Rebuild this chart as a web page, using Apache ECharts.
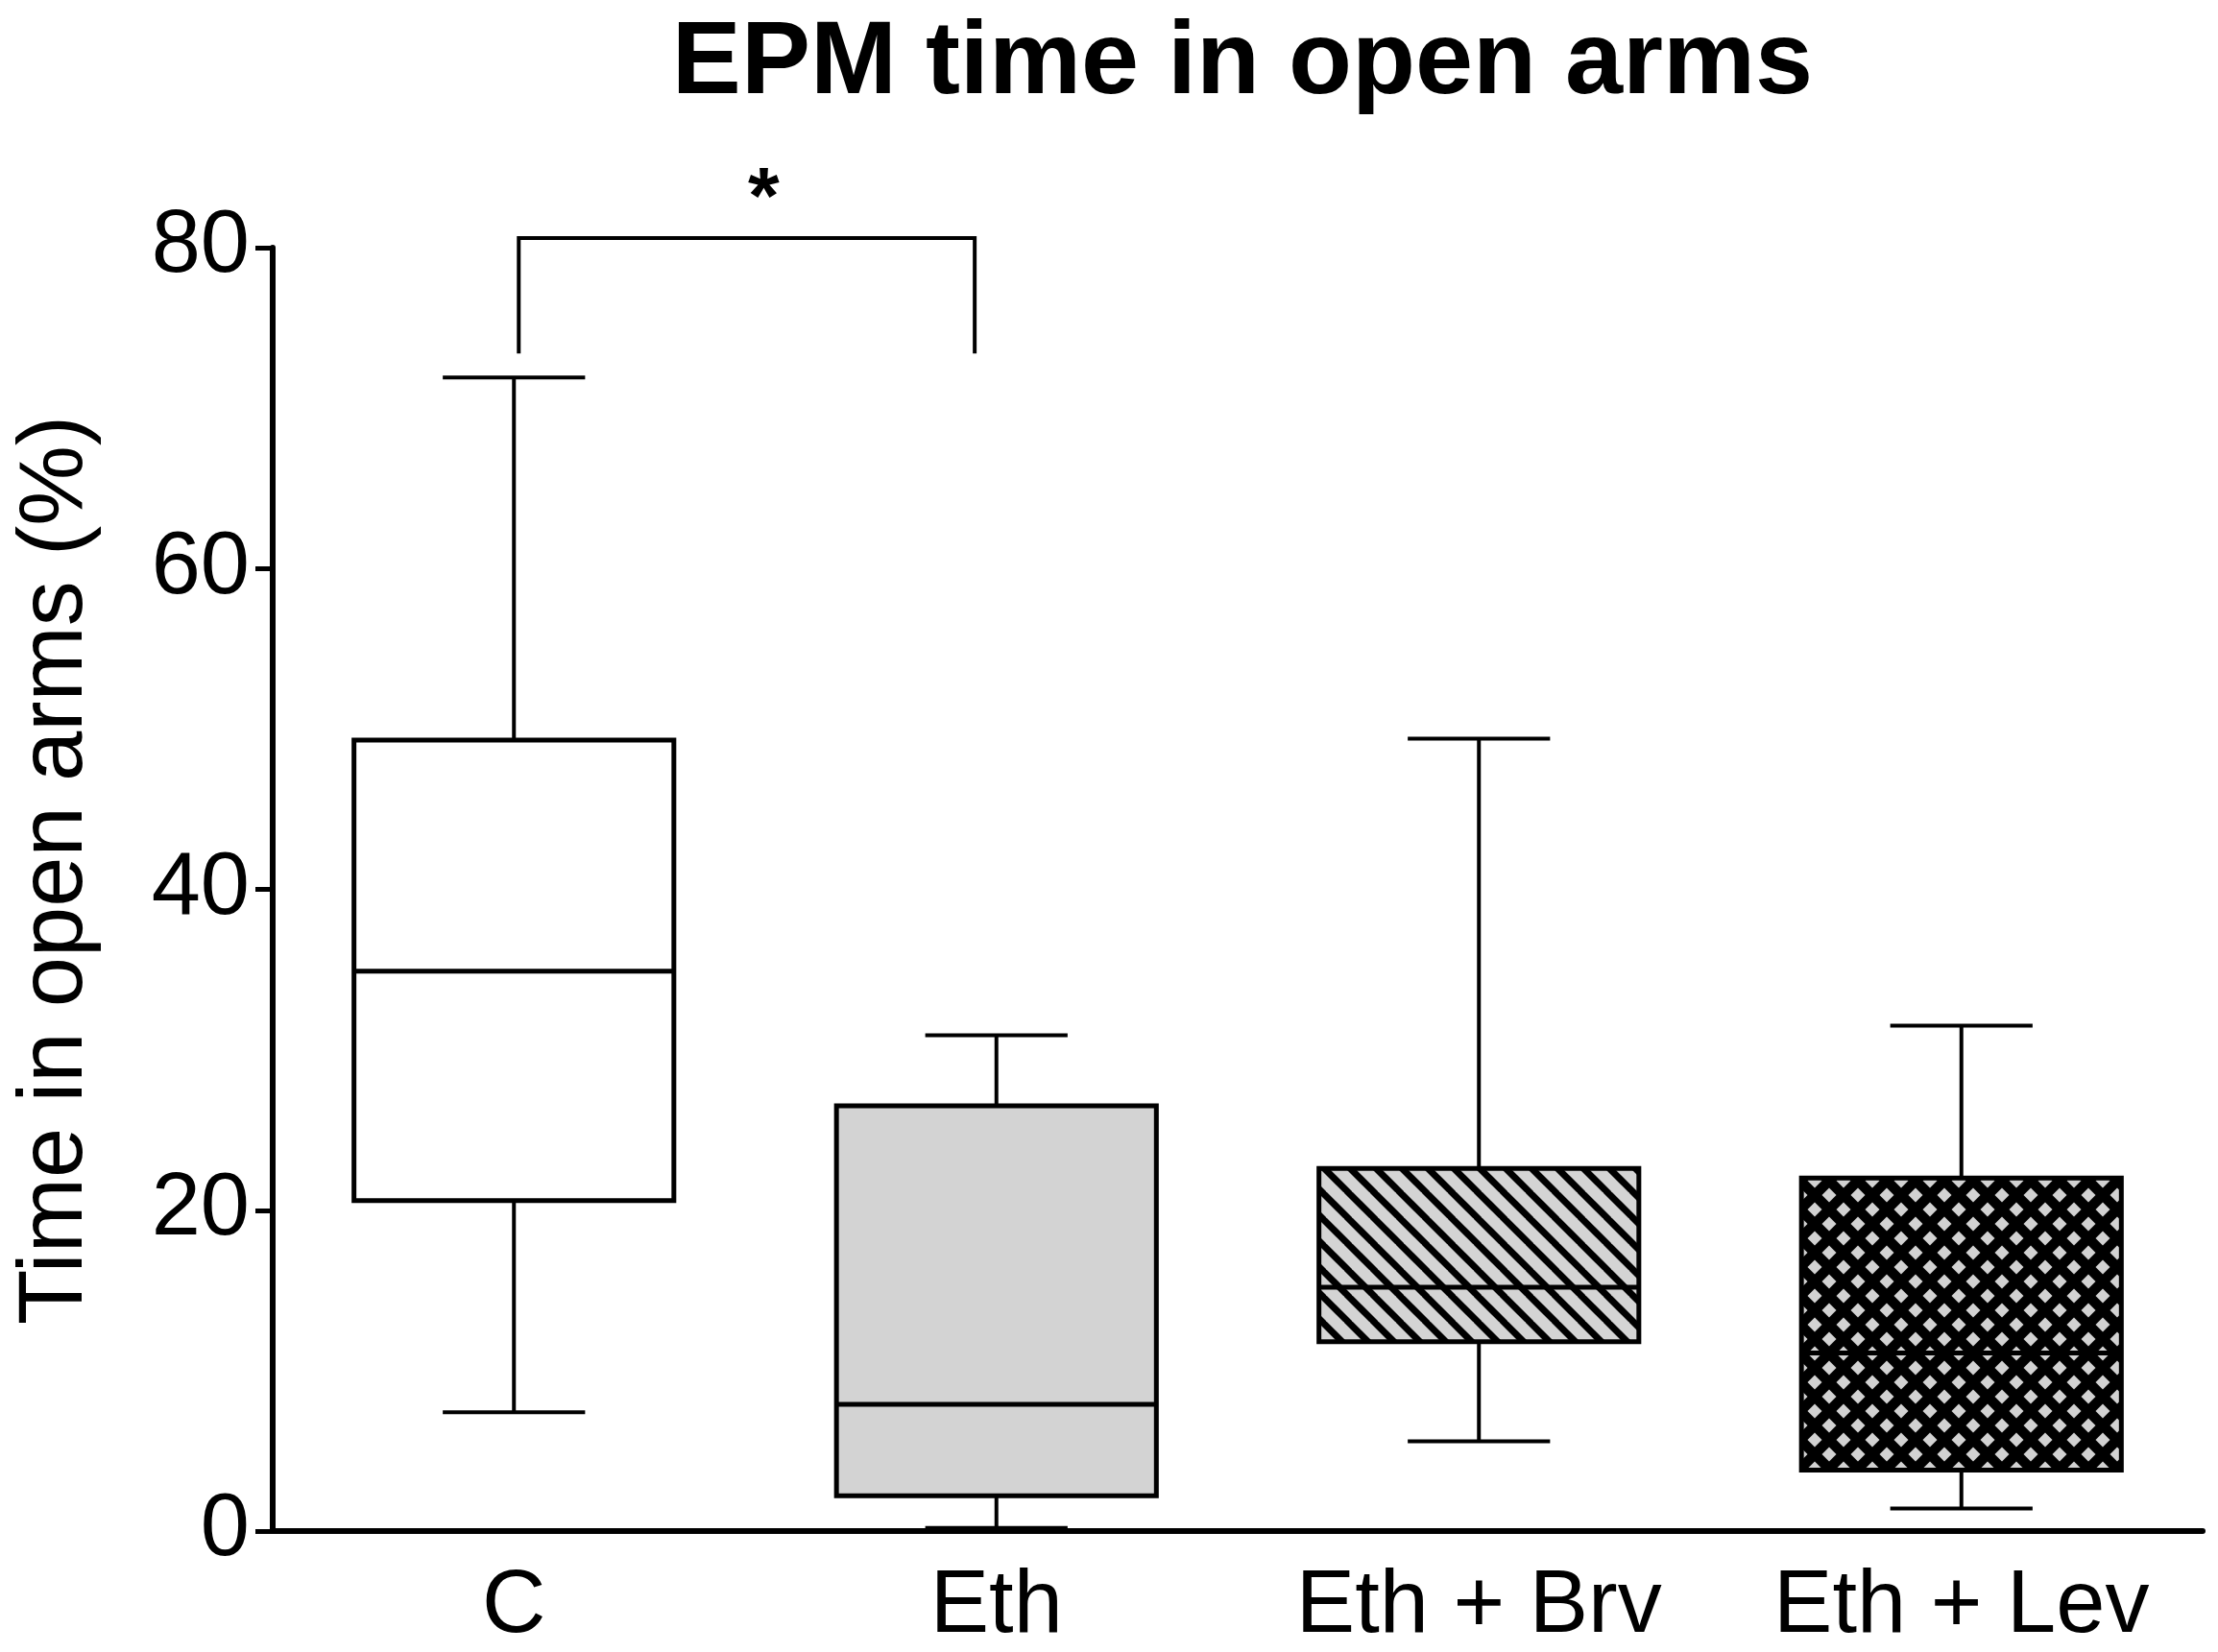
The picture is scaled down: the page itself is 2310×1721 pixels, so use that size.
<!DOCTYPE html>
<html>
<head>
    <meta charset="utf-8">
    <title>EPM time in open arms</title>
    <script src="https://cdn.jsdelivr.net/npm/echarts@6/dist/echarts.min.js"></script>
    <style>
        html, body { margin: 0; padding: 0; background: #fff; }
        #chart { width: 2310px; height: 1721px; }
    </style>
</head>
<body>
    <div id="chart"></div>
    <script>
        // data
        var categories = ['C', 'Eth', 'Eth + Brv', 'Eth + Lev'];
        var whiskerLow = [7.4, 0.2, 5.6, 1.4];
        var q1 = [20.6, 2.2, 11.8, 3.8];
        var median = [34.9, 7.9, 15.2, 11.1];
        var q3 = [49.3, 26.5, 22.6, 22.0];
        var whiskerHigh = [71.9, 30.9, 49.4, 31.5];

        // significance bracket: C vs Eth
        var sigFrom = [0];
        var sigTo = [1];
        var sigTop = [80.6];
        var sigLeg = [73.4];
        var sigLabel = ['*'];

        var FONT = '"Liberation Sans", Arial, Helvetica, sans-serif';

        // fill patterns
        function stripePattern() {
            var p = 27;
            var c = document.createElement('canvas');
            c.width = p; c.height = p;
            var ctx = c.getContext('2d');
            ctx.fillStyle = '#d4d4d4';
            ctx.fillRect(0, 0, p, p);
            ctx.strokeStyle = '#000';
            ctx.lineWidth = 7;
            for (var k = -1; k <= 1; k++) {
                ctx.beginPath();
                ctx.moveTo(k * p - 2, -2);
                ctx.lineTo(k * p + p + 2, p + 2);
                ctx.stroke();
            }
            return { image: c, repeat: 'repeat' };
        }

        function crossPattern() {
            var p = 30;
            var c = document.createElement('canvas');
            c.width = p; c.height = p;
            var ctx = c.getContext('2d');
            ctx.fillStyle = '#000';
            ctx.fillRect(0, 0, p, p);
            ctx.fillStyle = '#d2d2d2';
            var r = 7.5;
            var pts = [[0, 0], [p, 0], [0, p], [p, p], [p / 2, p / 2]];
            pts.forEach(function (pt) {
                ctx.beginPath();
                ctx.moveTo(pt[0], pt[1] - r);
                ctx.lineTo(pt[0] + r, pt[1]);
                ctx.lineTo(pt[0], pt[1] + r);
                ctx.lineTo(pt[0] - r, pt[1]);
                ctx.closePath();
                ctx.fill();
            });
            return { image: c, repeat: 'repeat' };
        }

        var boxFills = ['#ffffff', '#d3d3d3', stripePattern(), crossPattern()];

        var boxData = categories.map(function (c, i) {
            return [i, whiskerLow[i], q1[i], median[i], q3[i], whiskerHigh[i]];
        });

        var sigData = sigFrom.map(function (f, i) {
            return [f, sigTo[i], sigTop[i], sigLeg[i]];
        });

        var chart = echarts.init(document.getElementById('chart'), null, { renderer: 'canvas' });

        var option = {
            backgroundColor: '#fff',
            animation: false,
            title: {
                text: 'EPM time in open arms',
                left: 1289,
                top: 8,
                textAlign: 'center',
                textStyle: {
                    fontFamily: FONT,
                    fontWeight: 'bold',
                    fontSize: 108,
                    color: '#000'
                }
            },
            grid: {
                left: 284,
                right: 16,
                top: 258,
                bottom: 125,
                containLabel: false
            },
            xAxis: {
                type: 'category',
                data: categories,
                boundaryGap: true,
                axisLine: { lineStyle: { color: '#000', width: 6 } },
                axisTick: { alignWithLabel: true, length: 18, lineStyle: { color: '#000', width: 5 } },
                axisLabel: { interval: 0, fontFamily: FONT, fontSize: 92, color: '#000', margin: 34 },
                splitLine: { show: false }
            },
            yAxis: {
                type: 'value',
                min: 0,
                max: 80,
                interval: 20,
                name: 'Time in open arms (%)',
                nameLocation: 'middle',
                nameGap: 178,
                nameTextStyle: { fontFamily: FONT, fontSize: 94, color: '#000', padding: [0, 0, 0, 40] },
                axisLine: { show: true, lineStyle: { color: '#000', width: 6 } },
                axisTick: { show: true, length: 18, lineStyle: { color: '#000', width: 5 } },
                axisLabel: { fontFamily: FONT, fontSize: 92, color: '#000', margin: 24 },
                splitLine: { show: false }
            },
            series: [
                {
                    // boxes
                    type: 'custom',
                    data: boxData,
                    z: 3,
                    renderItem: function (params, api) {
                        var idx = api.value(0);
                        var band = api.size([1, 0])[0];
                        var boxW = band * 0.663;
                        var capW = band * 0.295;
                        var pLow = api.coord([idx, api.value(1)]);
                        var pQ1 = api.coord([idx, api.value(2)]);
                        var pMed = api.coord([idx, api.value(3)]);
                        var pQ3 = api.coord([idx, api.value(4)]);
                        var pHigh = api.coord([idx, api.value(5)]);
                        var x = pQ1[0];
                        var lineStyle = { stroke: '#000', lineWidth: 4 };
                        return {
                            type: 'group',
                            children: [
                                { type: 'line', shape: { x1: x, y1: pLow[1], x2: x, y2: pQ1[1] }, style: lineStyle },
                                { type: 'line', shape: { x1: x, y1: pQ3[1], x2: x, y2: pHigh[1] }, style: lineStyle },
                                { type: 'line', shape: { x1: x - capW / 2, y1: pLow[1], x2: x + capW / 2, y2: pLow[1] }, style: lineStyle },
                                { type: 'line', shape: { x1: x - capW / 2, y1: pHigh[1], x2: x + capW / 2, y2: pHigh[1] }, style: lineStyle },
                                {
                                    type: 'rect',
                                    shape: { x: x - boxW / 2, y: pQ3[1], width: boxW, height: pQ1[1] - pQ3[1] },
                                    style: { fill: boxFills[idx], stroke: '#000', lineWidth: 5 }
                                },
                                { type: 'line', shape: { x1: x - boxW / 2, y1: pMed[1], x2: x + boxW / 2, y2: pMed[1] }, style: { stroke: '#000', lineWidth: 5 } }
                            ]
                        };
                    }
                },
                {
                    // significance bracket
                    type: 'custom',
                    data: sigData,
                    z: 3,
                    renderItem: function (params, api) {
                        var band = api.size([1, 0])[0];
                        var a = api.coord([api.value(0), api.value(2)]);
                        var b = api.coord([api.value(1), api.value(2)]);
                        var leg = api.coord([api.value(0), api.value(3)]);
                        var xl = a[0] + band * 0.01;
                        var xr = b[0] - band * 0.045;
                        var st = { stroke: '#000', lineWidth: 4, fill: null };
                        return {
                            type: 'group',
                            children: [
                                {
                                    type: 'polyline',
                                    shape: { points: [[xl, leg[1]], [xl, a[1]], [xr, a[1]], [xr, leg[1]]] },
                                    style: st
                                },
                                {
                                    type: 'text',
                                    x: (xl + xr) / 2 + band * 0.035,
                                    y: a[1] - 38,
                                    style: {
                                        text: sigLabel[params.dataIndex],
                                        fontFamily: FONT,
                                        fontWeight: 'bold',
                                        fontSize: 84,
                                        fill: '#000',
                                        align: 'center',
                                        verticalAlign: 'middle'
                                    }
                                }
                            ]
                        };
                    }
                }
            ]
        };

        chart.setOption(option);
    </script>
</body>
</html>
